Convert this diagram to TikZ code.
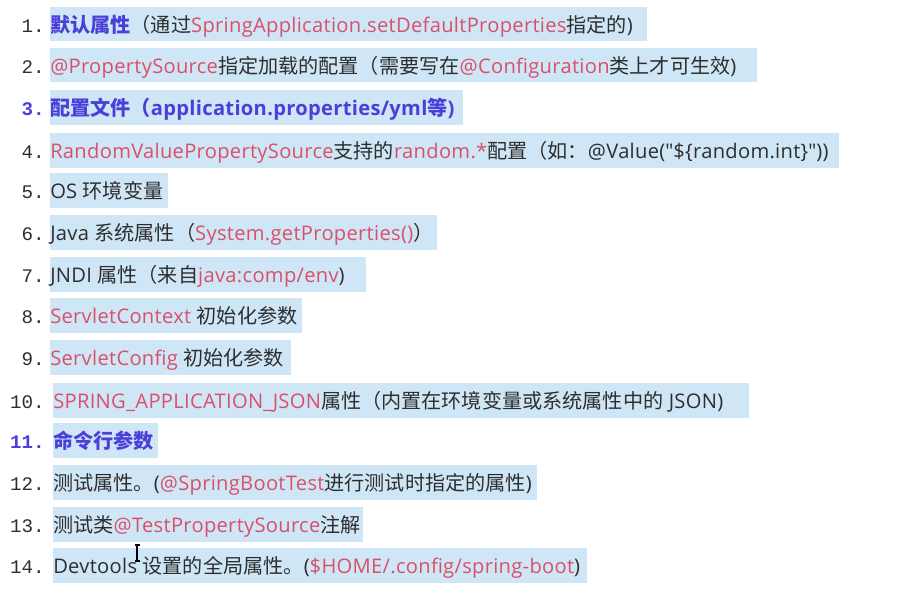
\documentclass[tikz,border=0pt]{standalone}
\usepackage{fontspec}
\setmainfont{Open Sans}[LetterSpace=1.5]
\newfontfamily\qfont{Open Sans}[LetterSpace=1.5]
\newfontfamily\zhfont{Noto Sans CJK SC}
\newfontfamily\numfont{Liberation Mono}
\newcommand\zh[1]{{\zhfont#1}}
\newcommand\rd[1]{{\color{codered}#1}}
\newcommand\dq{{\qfont"}}
\definecolor{hl}{HTML}{CFE6F6}
\definecolor{codered}{HTML}{DA5068}
\definecolor{bluebold}{HTML}{4A3FD8}
\definecolor{txtc}{HTML}{2E2E2E}
\tikzset{
  txt/.style={anchor=base west, inner sep=0pt, text=txtc, font=\fontsize{15.1}{18}\selectfont},
  num/.style={anchor=base east, inner sep=0pt, text=txtc, font=\numfont\fontsize{14.4}{18}\selectfont},
  bnum/.style={num, text=bluebold, font=\numfont\bfseries\fontsize{14.4}{18}\selectfont},
  hlbox/.style={fill=hl}
}
\begin{document}
\begin{tikzpicture}[x=0.75pt,y=-0.75pt]
\useasboundingbox (0,0) rectangle (924,592);
\fill[white] (0,0) rectangle (924,592);
% highlight boxes
\fill[hlbox] (50,7) rectangle (647,41.5);
\fill[hlbox] (50,48) rectangle (757,82.5);
\fill[hlbox] (50,90) rectangle (463,124.5);
\fill[hlbox] (50,133) rectangle (839,167.5);
\fill[hlbox] (50,173) rectangle (168,207.5);
\fill[hlbox] (50,215) rectangle (437,249.5);
\fill[hlbox] (50,257) rectangle (366,291.5);
\fill[hlbox] (50,298) rectangle (302,332.5);
\fill[hlbox] (50,340) rectangle (291,374.5);
\fill[hlbox] (53,383) rectangle (749,417.5);
\fill[hlbox] (53,423) rectangle (158,457.5);
\fill[hlbox] (53,465) rectangle (537,499.5);
\fill[hlbox] (53,507) rectangle (363,541.5);
\fill[hlbox] (53,548) rectangle (587,582.5);
% numbers
\node[num]  (n1)  at (45,32.5)  {1.};
\node[num]  (n2)  at (45,73.5)  {2.};
\node[bnum] (n3)  at (45,115.5) {3.};
\node[num]  (n4)  at (45,158.5) {4.};
\node[num]  (n5)  at (45,198.5) {5.};
\node[num]  (n6)  at (45,240.5) {6.};
\node[num]  (n7)  at (45,282.5) {7.};
\node[num]  (n8)  at (45,323.5) {8.};
\node[num]  (n9)  at (45,365.5) {9.};
\node[num]  (n10) at (45,408.5) {10.};
\node[bnum] (n11) at (45,448.5) {11.};
\node[num]  (n12) at (45,490.5) {12.};
\node[num]  (n13) at (45,532.5) {13.};
\node[num]  (n14) at (45,573.5) {14.};
% texts
\node[txt] (t1) at (50,32.5) {\zh{\bfseries\color{bluebold}默认属性}\zh{（通过}\rd{SpringApplication.setDefaultProperties}\zh{指定的})};
\node[txt] (t2) at (50,73.5) {\rd{@PropertySource}\zh{指定加载的配置（需要写在}\rd{@Configuration}\zh{类上才可生效})};
\node[txt] (t3) at (50,115.5) {{\bfseries\color{bluebold}\zh{配置文件（}application.properties/yml\zh{等})}};
\node[txt] (t4) at (50,158.5) {\rd{RandomValuePropertySource}\zh{支持的}\rd{random.*}\zh{配置（如：}@Value(\dq\$\{random.int\}\dq))};
\node[txt] (t5) at (50,198.5) {OS \zh{环境变量}};
\node[txt] (t6) at (50,240.5) {Java \zh{系统属性（}\rd{System.getProperties()}\zh{）}};
\node[txt] (t7) at (50,282.5) {JNDI \zh{属性（来自}\rd{java:comp/env})};
\node[txt] (t8) at (50,323.5) {\rd{ServletContext} \zh{初始化参数}};
\node[txt] (t9) at (50,365.5) {\rd{ServletConfig} \zh{初始化参数}};
\node[txt] (t10) at (53,408.5) {\rd{SPRING\_APPLICATION\_JSON}\zh{属性（内置在环境变量或系统属性中的} JSON)};
\node[txt] (t11) at (53,448.5) {{\bfseries\color{bluebold}\zh{命令行参数}}};
\node[txt] (t12) at (53,490.5) {\zh{测试属性。}(\rd{@SpringBootTest}\zh{进行测试时指定的属性})};
\node[txt] (t13) at (53,532.5) {\zh{测试类}\rd{@TestPropertySource}\zh{注解}};
\node[txt] (t14) at (53,573.5) {Devtools \zh{设置的全局属性。}(\rd{\$HOME/.config/spring-boot})};
% text cursor (I-beam)
\draw[line width=0.9pt, black] (137,545) -- (137,561)
  (134.5,545) -- (139.5,545) (134.5,561) -- (139.5,561);
\end{tikzpicture}
\end{document}
